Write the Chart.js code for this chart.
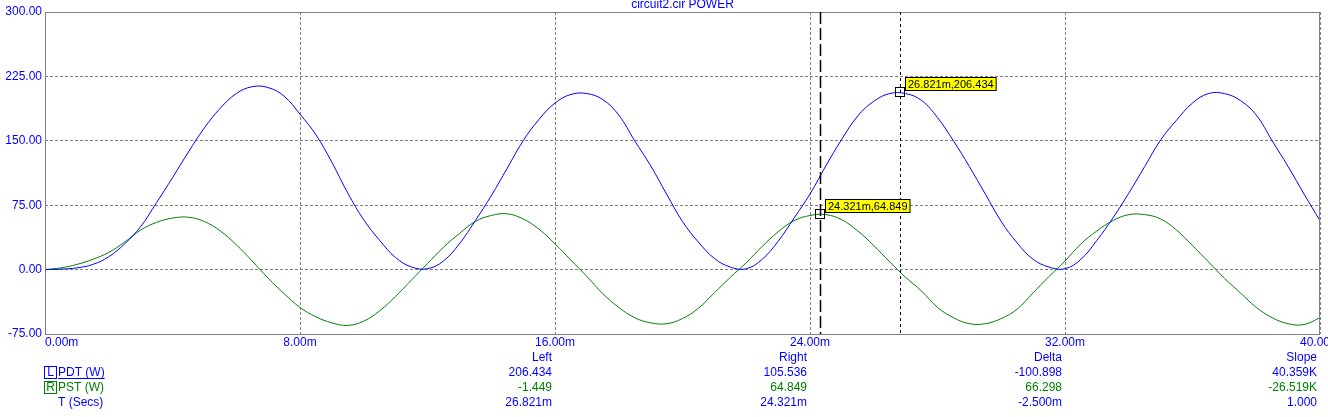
<!DOCTYPE html>
<html>
<head>
<meta charset="utf-8">
<script src="https://cdn.jsdelivr.net/npm/chart.js@4.4.1/dist/chart.umd.min.js"></script>
<style>
  html, body { margin: 0; padding: 0; background: #fff; overflow: hidden; }
  #wrap { width: 1328px; height: 417px; }
</style>
</head>
<body>
<div id="wrap"><canvas id="power" width="1328" height="417"></canvas></div>
<script>
// time axis in ms
const timeMs = [
  0, 0.5, 1, 1.5, 2, 2.5, 3, 3.5, 4, 4.5, 5, 5.5, 6, 6.5, 7, 7.5, 8, 8.5, 9, 9.5,
  10, 10.5, 11, 11.5, 12, 12.5, 13, 13.5, 14, 14.5, 15, 15.5, 16, 16.5, 17, 17.5, 18, 18.5, 19, 19.5,
  20, 20.5, 21, 21.5, 22, 22.5, 23, 23.5, 24, 24.5, 25, 25.5, 26, 26.5, 27, 27.5, 28, 28.5, 29, 29.5,
  30, 30.5, 31, 31.5, 32, 32.5, 33, 33.5, 34, 34.5, 35, 35.5, 36, 36.5, 37, 37.5, 38, 38.5, 39, 39.5, 40
];

// PDT (W)
const pdtWatts = [
  0, 0.5, 2, 6, 15, 30, 50, 78, 107, 137, 165, 188, 205, 213, 212, 202, 181, 157, 125, 89,
  58, 34, 14, 3, 1, 10, 30, 57, 86, 118, 150, 175, 194, 204, 205, 198, 180, 150, 121, 88,
  56, 32, 13, 3, 1, 12, 33, 60, 88, 121, 152, 179, 196, 205, 205, 197, 177, 150, 120, 88,
  56, 31, 12, 3, 1, 12, 34, 60, 89, 120, 151, 174, 194, 205, 205, 197, 180, 150, 120, 88, 57
];

// PST (W)
const pstWatts = [
  0, 2, 6, 12, 20, 32, 46, 55, 60, 61, 56, 45, 29, 10, -10, -28, -44, -55, -62, -65,
  -60, -48, -31, -12, 7, 26, 42, 56, 63, 65, 59, 47, 30, 11, -8, -28, -44, -56, -62, -63,
  -57, -45, -27, -9, 8, 27, 44, 57, 63, 64, 58, 45, 28, 9, -9, -25, -44, -56, -63, -63,
  -57, -46, -27, -8, 10, 30, 45, 57, 64, 64, 59, 46, 28, 9, -10, -27, -44, -56, -63, -64, -56
];

const xTicks = [0, 8, 16, 24, 32, 40];
const yTicks = [-75, 0, 75, 150, 225, 300];

// cursors: left on PDT, right on PST
const cursorTimes = [26.821, 24.321];
const cursorValues = [206.434, 64.849];
const cursorLabels = ['26.821m,206.434', '24.321m,64.849'];

// readout table, columns end under the 16/24/32/40 ms grid lines
const tableCols = [16, 24, 32, 40];
const tableHeads = ['Left', 'Right', 'Delta', 'Slope'];
const pdtRow = ['206.434', '105.536', '-100.898', '40.359K'];
const pstRow = ['-1.449', '64.849', '66.298', '-26.519K'];
const timeRow = ['26.821m', '24.321m', '-2.500m', '1.000'];

const BLUE = '#0000ff';
const GREEN = '#008000';
const GRID = '#808080';
const FONT = '"Liberation Sans", Arial, sans-serif';

const overlay = {
  id: 'overlay',
  afterDatasetsDraw(chart) {
    const { ctx, chartArea: a, scales: { x, y } } = chart;
    ctx.save();

    // plot frame
    ctx.strokeStyle = GRID;
    ctx.lineWidth = 1;
    ctx.setLineDash([]);
    ctx.strokeRect(a.left + 0.5, a.top + 0.5, a.right - a.left - 1, a.bottom - a.top);

    // cursor lines
    ctx.strokeStyle = '#000';
    const xl = Math.round(x.getPixelForValue(cursorTimes[0])) + 0.5;
    ctx.lineWidth = 1;
    ctx.setLineDash([3, 3]);
    ctx.beginPath(); ctx.moveTo(xl, a.top); ctx.lineTo(xl, a.bottom); ctx.stroke();
    const xr = Math.round(x.getPixelForValue(cursorTimes[1])) + 0.5;
    ctx.lineWidth = 1.5;
    ctx.setLineDash([12, 4]);
    ctx.beginPath(); ctx.moveTo(xr, a.top); ctx.lineTo(xr, a.bottom); ctx.stroke();
    ctx.setLineDash([]);

    // markers + yellow labels
    ctx.font = '11px ' + FONT;
    ctx.textBaseline = 'middle';
    ctx.textAlign = 'left';
    cursorTimes.forEach((t, i) => {
      const px = Math.round(x.getPixelForValue(t));
      const py = Math.round(y.getPixelForValue(cursorValues[i]));
      ctx.lineWidth = 1;
      ctx.strokeStyle = '#000';
      ctx.strokeRect(px - 4.5, py - 4.5, 9, 9);
      const w = ctx.measureText(cursorLabels[i]).width + 5;
      const bx = px + 5.5, by = py - 14.5;
      ctx.fillStyle = '#ffff00';
      ctx.fillRect(bx, by, w, 13);
      ctx.strokeRect(bx, by, w, 13);
      ctx.fillStyle = '#000';
      ctx.fillText(cursorLabels[i], bx + 2.5, by + 7);
    });

    // title
    ctx.font = '12px ' + FONT;
    ctx.fillStyle = BLUE;
    ctx.textAlign = 'center';
    ctx.fillText('circuit2.cir POWER', (a.left + a.right) / 2, 5);

    // x tick labels
    xTicks.forEach((v, i) => {
      ctx.textAlign = i === 0 ? 'left' : 'center';
      ctx.fillText(v.toFixed(2) + 'm', x.getPixelForValue(v), 342.5);
    });

    // readout table
    const rows = [[tableHeads, BLUE, 357.5], [pdtRow, BLUE, 372.5], [pstRow, GREEN, 387.5], [timeRow, BLUE, 402.5]];
    ctx.textAlign = 'right';
    rows.forEach(([cells, color, ty]) => {
      ctx.fillStyle = color;
      cells.forEach((c, j) => {
        ctx.fillText(c, x.getPixelForValue(tableCols[j]) - 3, ty);
      });
    });

    // legend column
    ctx.textAlign = 'left';
    ctx.lineWidth = 1;
    ctx.strokeStyle = BLUE;
    ctx.strokeRect(44.5, 366.5, 12, 12);
    ctx.fillStyle = BLUE;
    ctx.textAlign = 'center';
    ctx.fillText('L', 50.5, 372.5);
    ctx.textAlign = 'left';
    ctx.fillText('PDT (W)', 58, 372.5);
    const uw = ctx.measureText('PDT (W)').width;
    ctx.beginPath(); ctx.moveTo(58, 378.5); ctx.lineTo(58 + uw, 378.5); ctx.stroke();

    ctx.strokeStyle = GREEN;
    ctx.strokeRect(44.5, 381.5, 12, 12);
    ctx.fillStyle = GREEN;
    ctx.textAlign = 'center';
    ctx.fillText('R', 50.5, 387.5);
    ctx.textAlign = 'left';
    ctx.fillText('PST (W)', 58, 387.5);

    ctx.fillStyle = BLUE;
    ctx.fillText('T (Secs)', 58, 402.5);

    ctx.restore();
  }
};

const toPoints = vals => vals.map((v, i) => ({ x: timeMs[i], y: v }));

new Chart(document.getElementById('power').getContext('2d'), {
  type: 'line',
  data: {
    datasets: [
      { label: 'PDT (W)', data: toPoints(pdtWatts), borderColor: BLUE, borderWidth: 1, pointRadius: 0, tension: 0.4, fill: false },
      { label: 'PST (W)', data: toPoints(pstWatts), borderColor: GREEN, borderWidth: 1, pointRadius: 0, tension: 0.4, fill: false }
    ]
  },
  options: {
    responsive: false,
    animation: false,
    devicePixelRatio: 1,
    layout: { padding: { top: 12, right: 8, left: 0, bottom: 0 } },
    plugins: { legend: { display: false }, tooltip: { enabled: false }, title: { display: false } },
    scales: {
      x: {
        type: 'linear',
        min: 0,
        max: 40,
        afterBuildTicks: s => { s.ticks = xTicks.map(v => ({ value: v })); },
        afterFit: s => { s.height = 83; },
        ticks: { display: false },
        grid: { color: GRID, lineWidth: 1, drawTicks: false },
        border: { display: false, dash: [3, 2] }
      },
      y: {
        min: -75,
        max: 300,
        afterBuildTicks: s => { s.ticks = yTicks.map(v => ({ value: v })); },
        afterFit: s => { s.width = 45; },
        ticks: {
          color: BLUE,
          padding: 3,
          font: { family: FONT, size: 12 },
          callback: v => Number(v).toFixed(2)
        },
        grid: { color: GRID, lineWidth: 1, drawTicks: false },
        border: { display: false, dash: [3, 2] }
      }
    }
  },
  plugins: [overlay]
});
</script>
</body>
</html>
